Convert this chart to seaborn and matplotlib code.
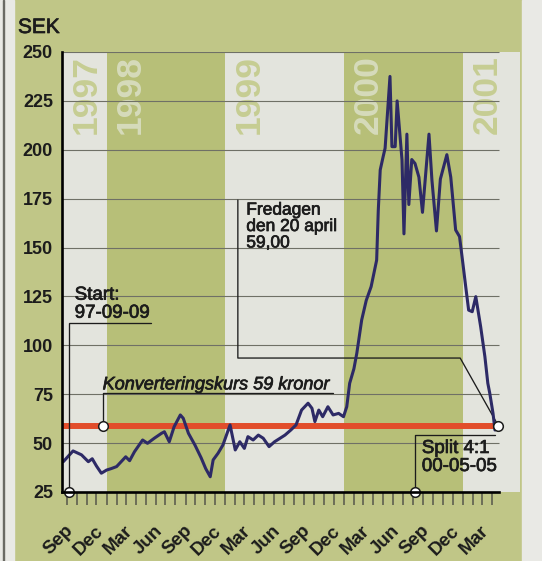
import matplotlib
matplotlib.use("Agg")
import matplotlib.pyplot as plt
import matplotlib.dates as mdates
import matplotlib.transforms as mtransforms
import matplotlib.patheffects as pe
from matplotlib.patches import Rectangle
import numpy as np
import pandas as pd
import seaborn as sns

# ---------------- data ----------------
dates = [
    "1997-08-21", "1997-09-20", "1997-10-16", "1997-11-06", "1997-11-18", "1997-12-01",
    "1997-12-16", "1998-01-01", "1998-01-16", "1998-02-01", "1998-02-15", "1998-03-01",
    "1998-03-13", "1998-03-28", "1998-04-22", "1998-05-07", "1998-05-28", "1998-06-19",
    "1998-06-28", "1998-07-13", "1998-07-28", "1998-08-16", "1998-08-25", "1998-09-10",
    "1998-09-30", "1998-10-19", "1998-11-02", "1998-11-16", "1998-11-25", "1998-12-10",
    "1998-12-25", "1999-01-16", "1999-02-01", "1999-02-15", "1999-03-01", "1999-03-12",
    "1999-03-28", "1999-04-13", "1999-04-28", "1999-05-16", "1999-06-02", "1999-06-19",
    "1999-07-04", "1999-07-22", "1999-08-07", "1999-08-24", "1999-09-13", "1999-09-25",
    "1999-10-04", "1999-10-16", "1999-10-28", "1999-11-13", "1999-11-29", "1999-12-16",
    "1999-12-31", "2000-01-10", "2000-01-19", "2000-01-25", "2000-02-01", "2000-02-10",
    "2000-02-25", "2000-03-10", "2000-03-25", "2000-04-11", "2000-04-16", "2000-04-22",
    "2000-05-01", "2000-05-07", "2000-05-22", "2000-05-28", "2000-06-07", "2000-06-13",
    "2000-06-28", "2000-07-04", "2000-07-13", "2000-07-19", "2000-07-28", "2000-08-07",
    "2000-08-19", "2000-08-30", "2000-09-19", "2000-09-28", "2000-10-12", "2000-10-24",
    "2000-11-13", "2000-11-25", "2000-12-10", "2000-12-22", "2000-12-31", "2001-01-10",
    "2001-01-19", "2001-01-30", "2001-02-10", "2001-02-25", "2001-03-10", "2001-03-19",
    "2001-03-25", "2001-04-04", "2001-04-10", "2001-04-20",
]
prices = [
    40.5, 46, 44, 40.5, 42, 38.3,
    34.6, 36.2, 37, 38, 40.5, 43,
    41, 45.6, 51.6, 49.9, 52.5, 55,
    55.8, 50.7, 58.4, 64.4, 62.7, 55,
    49, 42.5, 37, 32.8, 41.4, 44.8,
    49, 59.3, 46.5, 50.7, 47.3, 53.3,
    51.6, 54.1, 52.5, 48.2, 50.7, 52.5,
    54.1, 56.7, 59.3, 66.9, 70.4, 67.8,
    61, 66.9, 63.5, 68.6, 64.4, 65.2,
    63.5, 68.6, 80.6, 84, 88, 96,
    113, 123, 130, 143.6, 169, 189.7,
    196.5, 200.8, 237.5, 201.6, 201.6, 225,
    194.8, 157, 208, 172, 195, 193,
    186, 168, 208, 184.6, 158.5, 185,
    197.5, 186, 159, 155.6, 143.6, 130,
    118, 117.2, 124.9, 109.5, 94.2, 80.6,
    75.5, 65.2, 56.7, 59,
]

years = [1997, 1998, 1999, 2000, 2001]
y_ticks = [25, 50, 75, 100, 125, 150, 175, 200, 225, 250]
grid_values = [50, 75, 100, 125, 150, 175, 200, 225, 250]
conversion_rate = 59
last_date = "2001-04-20"
last_price = 59

start_date = "1997-09-09"
split_date = "2000-08-07"
konv_date = "1997-12-20"

# ---------------- style ----------------
GREEN_BG = "#c0c687"
BAND_GREEN = "#b7bf78"
BAND_WHITE = "#e3e4dd"
PAPER = "#e9e9e5"
NAVY = "#2d2a66"
RED = "#e24d2b"
INK = "#1c1c1c"

sns.set_style("white")
plt.rcParams["font.family"] = ["Liberation Sans", "DejaVu Sans"]

thick = [pe.withStroke(linewidth=0.5, foreground=INK)]

fig = plt.figure(figsize=(5.42, 5.61), dpi=100)
fig.patch.set_facecolor(GREEN_BG)
W, H = 542, 561
fig.patches.append(Rectangle((522 / W, 0), 20 / W, 1, transform=fig.transFigure,
                             color=PAPER, zorder=0))
fig.patches.append(Rectangle((0, 0), 14 / W, 1, transform=fig.transFigure,
                             color=PAPER, zorder=0))
fig.patches.append(Rectangle((2.5 / W, 0), 1.2 / W, 1, transform=fig.transFigure,
                             color="#6a6a64", zorder=0))

ax = fig.add_axes([62 / W, 1 - 492 / H, (520 - 62) / W, (492 - 52) / H])
ax.set_facecolor(BAND_WHITE)

df = pd.DataFrame({"date": pd.to_datetime(dates), "price": prices})

xmin = mdates.date2num(pd.Timestamp("1997-08-17"))
xmax = mdates.date2num(pd.Timestamp("2001-06-26"))
xend = mdates.date2num(pd.Timestamp("2001-04-22"))

def dn(s):
    return mdates.date2num(pd.Timestamp(s))

# year bands
for i, yr in enumerate(years):
    a = max(dn(f"{yr}-01-01"), xmin)
    b = min(dn(f"{yr + 1}-01-01"), xmax)
    col = BAND_WHITE if i % 2 == 0 else BAND_GREEN
    ax.axvspan(a, b, color=col, lw=0, zorder=0)
    txtcol = "#c6cd93" if i % 2 == 0 else "#d6dbbb"
    tr = mtransforms.offset_copy(ax.transData, fig=fig, x=24, y=-3, units="dots")
    ax.text(a, 250, str(yr), transform=tr, rotation=90, ha="center", va="top",
            fontsize=25.5, fontweight="bold", color=txtcol, zorder=1)

# grid lines
ax.hlines(grid_values, xmin, xend, color="#6f7066", lw=0.8, zorder=1)

# conversion rate line
ax.hlines(conversion_rate, xmin, dn(last_date), color=RED, lw=4.3, zorder=2)

# price line
sns.lineplot(data=df, x="date", y="price", ax=ax, color=NAVY, lw=2.2, zorder=4)

# leader lines
lw_lead = 0.95
ax.plot([dn(start_date), dn(start_date), dn("1998-05-19")], [25, 111.4, 111.4],
        color=INK, lw=lw_lead, zorder=5, solid_joinstyle="miter")
ax.plot([dn(konv_date), dn(konv_date), dn("1999-11-28")], [conversion_rate, 75.6, 75.6],
        color=INK, lw=lw_lead, zorder=3)
ax.plot([dn("1999-02-09"), dn("1999-02-09"), dn("2000-12-24"), dn(last_date)],
        [174.3, 93.5, 93.5, last_price], color=INK, lw=lw_lead, zorder=3)
ax.plot([dn(split_date), dn(split_date), dn("2001-04-10")], [25, 54.1, 54.1],
        color=INK, lw=lw_lead, zorder=5)

# circles
cx = [dn(start_date), dn(konv_date), dn(split_date), dn(last_date)]
cy = [25, conversion_rate, 25, last_price]
ax.scatter(cx, cy, s=48, facecolor="white", edgecolor=INK, linewidth=1.1, zorder=7,
           clip_on=False)

# annotation texts
ax.text(dn("1997-09-25"), 130, "Start:\n97-09-09", ha="left", va="top",
        fontsize=13.5, color=INK, linespacing=1.08, zorder=6, path_effects=thick)
ax.text(dn(konv_date), 77.5, "Konverteringskurs 59 kronor", ha="left", va="baseline",
        fontsize=13, fontstyle="italic", color=INK, zorder=6, path_effects=thick)
ax.text(dn("1999-03-07"), 173, "Fredagen\nden 20 april\n59,00", ha="left", va="top",
        fontsize=12.5, color=INK, linespacing=1.12, zorder=6, path_effects=thick)
ax.text(dn("2000-08-28"), 51.6, "Split 4:1\n00-05-05", ha="left", va="top",
        fontsize=13.5, color=INK, linespacing=1.08, zorder=6, path_effects=thick)

# axes limits & spines
ax.set_xlim(xmin, xmax)
ax.set_ylim(25, 250)
for s in ["top", "right"]:
    ax.spines[s].set_visible(False)
ax.spines["left"].set_color("black")
ax.spines["left"].set_linewidth(1.9)
ax.spines["bottom"].set_color("black")
ax.spines["bottom"].set_linewidth(1.9)
ax.spines["bottom"].set_bounds(xmin, xend)
ax.spines["left"].set_zorder(8)
ax.spines["bottom"].set_zorder(8)

# x ticks
months = pd.date_range("1997-09-01", "2001-04-01", freq="MS")
major = [m for m in months if m.month in (3, 6, 9, 12)]
ax.set_xticks([mdates.date2num(m) for m in major])
ax.set_xticklabels([m.strftime("%b") for m in major])
ax.set_xticks([mdates.date2num(m) for m in months], minor=True)
ax.tick_params(axis="x", which="both", direction="out", length=9, width=1.1,
               color="#55564a", bottom=True)
ax.tick_params(axis="x", which="major", pad=17, labelsize=13.5)
for lab in ax.get_xticklabels():
    lab.set_rotation(45)
    lab.set_ha("right")
    lab.set_va("center")
    lab.set_rotation_mode("anchor")
    lab.set_fontweight("bold")
    lab.set_color(INK)
    lab.set_transform(lab.get_transform() +
                      mtransforms.ScaledTranslation(4 / 100, 0, fig.dpi_scale_trans))

# y ticks
ax.set_yticks(y_ticks)
ax.set_yticklabels([str(v) for v in y_ticks])
ax.tick_params(axis="y", length=0, pad=6.5, labelsize=13)
for lab in ax.get_yticklabels():
    lab.set_fontweight("bold")
    lab.set_color(INK)

ax.set_xlabel("")
ax.set_ylabel("")
fig.text(18 / W, 1 - 33 / H, "SEK", ha="left", va="baseline", fontsize=15, color=INK,
         path_effects=thick)

fig.savefig("out.png", dpi=100, facecolor=fig.get_facecolor())
